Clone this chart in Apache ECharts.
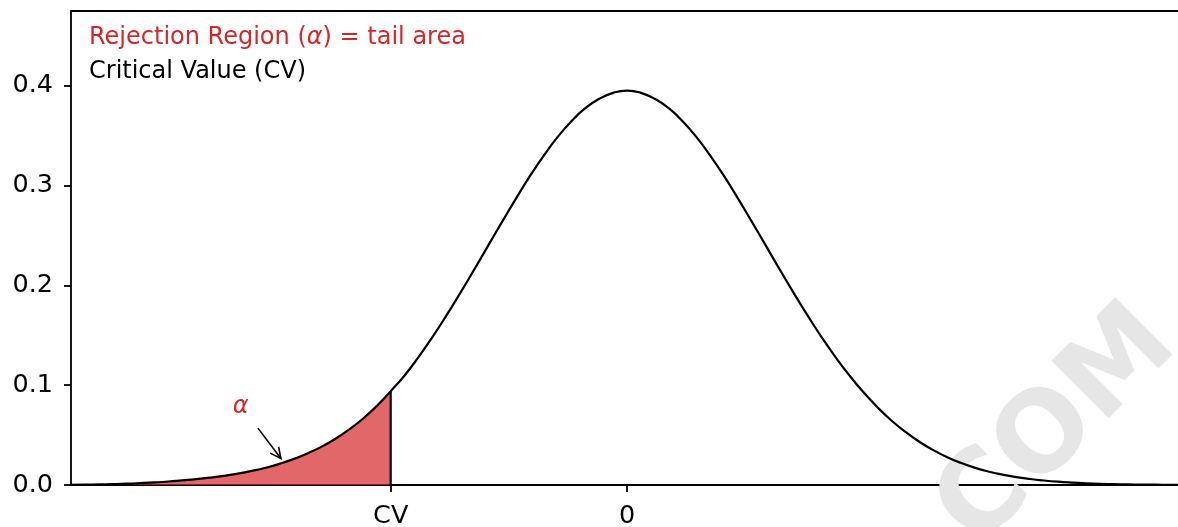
<!DOCTYPE html>
<html><head><meta charset="utf-8">
<script src="https://cdn.jsdelivr.net/npm/echarts@6/dist/echarts.min.js"></script>
<style>html,body{margin:0;padding:0;background:#fff}#c{width:1178px;height:527px}</style>
</head><body><div id="c"></div>
<script>
// ---- data ----
const xValues = [
  -4.0,-3.9,-3.8,-3.7,-3.6,-3.5,-3.4,-3.3,-3.2,-3.1,
  -3.0,-2.9,-2.8,-2.7,-2.6,-2.5,-2.4,-2.3,-2.2,-2.1,
  -2.0,-1.9,-1.8,-1.7,-1.6,-1.5,-1.4,-1.3,-1.2,-1.1,
  -1.0,-0.9,-0.8,-0.7,-0.6,-0.5,-0.4,-0.3,-0.2,-0.1,
   0.0,
   0.1, 0.2, 0.3, 0.4, 0.5, 0.6, 0.7, 0.8, 0.9, 1.0,
   1.1, 1.2, 1.3, 1.4, 1.5, 1.6, 1.7, 1.8, 1.9, 2.0,
   2.1, 2.2, 2.3, 2.4, 2.5, 2.6, 2.7, 2.8, 2.9, 3.0,
   3.1, 3.2, 3.3, 3.4, 3.5, 3.6, 3.7, 3.8, 3.9, 4.0
];
const density = [
  0.0002,0.0003,0.0006,0.0009,0.0013,0.0019,0.0026,0.0035,0.0047,0.0059,
  0.0074,0.0092,0.0114,0.0141,0.0173,0.0212,0.0259,0.0316,0.0382,0.0461,
  0.0555,0.0664,0.0792,0.0940,0.1098,0.1282,0.1482,0.1697,0.1923,0.2157,
  0.2396,0.2634,0.2868,0.3092,0.3299,0.3486,0.3646,0.3776,0.3870,0.3930,
  0.3953,
  0.3930,0.3870,0.3776,0.3646,0.3486,0.3299,0.3092,0.2868,0.2634,0.2396,
  0.2157,0.1923,0.1697,0.1482,0.1282,0.1098,0.0931,0.0782,0.0649,0.0535,
  0.0436,0.0352,0.0281,0.0222,0.0174,0.0135,0.0104,0.0079,0.0060,0.0045,
  0.0033,0.0024,0.0017,0.0012,0.0009,0.0006,0.0004,0.0003,0.0002,0.0001
];
const cvX = -1.7;
const xTickValues = [-1.7, 0];
const xTickLabels = ['CV', '0'];
const yTickValues = [0, 0.1, 0.2, 0.3, 0.4];
const alphaLabelPos = [-2.78, 0.078];
const arrowFrom = [-2.655, 0.057];
const arrowTo = [-2.49, 0.0265];
const titleRedParts = ['Rejection Region (', 'α', ') = tail area'];
const titleBlack = 'Critical Value (CV)';

// ---- build ----
const FONT = 'DejaVu Sans';
const curve = xValues.map((x, i) => [x, density[i]]);
const cvIdx = xValues.indexOf(cvX);
const tail = curve.slice(0, cvIdx + 1);
const cvLine = [[cvX, 0], [cvX, density[cvIdx]]];

const chart = echarts.init(document.getElementById('c'), null, {renderer: 'canvas'});
chart.setOption({
  animation: false,
  backgroundColor: '#fff',
  grid: {left: 71, top: 11, width: 1112, height: 474, show: true, borderColor: '#000', borderWidth: 1.8,
         containLabel: false, outerBoundsMode: 'none'},
  xAxis: {
    type: 'value', min: -4, max: 4,
    axisLine: {show: false, onZero: false},
    splitLine: {show: false},
    axisTick: {show: true, length: 7, lineStyle: {color: '#000', width: 1.8}, customValues: xTickValues},
    axisLabel: {
      customValues: xTickValues, margin: 18,
      color: '#000', fontSize: 25.5, fontFamily: FONT,
      formatter: v => { const k = xTickValues.findIndex(t => Math.abs(t - v) < 1e-9); return k >= 0 ? xTickLabels[k] : ''; }
    }
  },
  yAxis: {
    type: 'value', min: 0, max: 0.475,
    axisLine: {show: false, onZero: false},
    splitLine: {show: false},
    axisTick: {show: true, length: 7, lineStyle: {color: '#000', width: 1.8}, customValues: yTickValues},
    axisLabel: {customValues: yTickValues, margin: 18, padding: [11, 0, 0, 0], color: '#000', fontSize: 25.5, fontFamily: FONT, formatter: v => v.toFixed(1)}
  },
  graphic: [
    {type: 'text', x: 1058, y: 428, rotation: Math.PI / 4, z: 0, silent: true,
     style: {text: 'COM', fill: '#e6e6e6', font: 'bold 111px "DejaVu Sans"', align: 'center', verticalAlign: 'middle'}},
    {type: 'text', x: 89, y: 38, z: 10,
     style: {
       text: '{n|' + titleRedParts[0] + '}{i|' + titleRedParts[1] + '}{n|' + titleRedParts[2] + '}',
       verticalAlign: 'middle',
       rich: {
         n: {fill: '#d62728', fontSize: 24, fontFamily: FONT},
         i: {fill: '#d62728', fontSize: 24, fontFamily: FONT, fontStyle: 'italic'}
       }
     }},
    {type: 'text', x: 89, y: 71.5, z: 10,
     style: {text: titleBlack, fill: '#000', font: '24px "DejaVu Sans"', verticalAlign: 'middle'}}
  ],
  series: [
    {type: 'line', data: tail, showSymbol: false, symbol: 'none', smooth: 0.5, z: 3,
     lineStyle: {width: 0}, areaStyle: {color: 'rgba(214,39,40,0.7)', opacity: 1}},
    {type: 'line', data: curve, showSymbol: false, symbol: 'none', smooth: 0.5, z: 5,
     lineStyle: {color: '#000', width: 2.2, join: 'round'}},
    {type: 'line', data: cvLine, showSymbol: false, symbol: 'none', z: 5,
     lineStyle: {color: '#000', width: 2.2}},
    {type: 'custom', coordinateSystem: 'cartesian2d', z: 6,
     data: [[arrowFrom[0], arrowFrom[1], arrowTo[0], arrowTo[1]]],
     renderItem: (params, api) => {
       const p0 = api.coord([api.value(0), api.value(1)]);
       const p1 = api.coord([api.value(2), api.value(3)]);
       const dx = p1[0] - p0[0], dy = p1[1] - p0[1];
       const L = Math.hypot(dx, dy), ux = dx / L, uy = dy / L;
       const hl = 12, th = 26 * Math.PI / 180;
       const rot = a => [p1[0] - hl * (ux * Math.cos(a) - uy * Math.sin(a)), p1[1] - hl * (ux * Math.sin(a) + uy * Math.cos(a))];
       const h1 = rot(th), h2 = rot(-th);
       const st = {stroke: '#000', lineWidth: 1.6, fill: null};
       return {type: 'group', children: [
         {type: 'line', shape: {x1: p0[0], y1: p0[1], x2: p1[0], y2: p1[1]}, style: st},
         {type: 'polyline', shape: {points: [h1, p1, h2]}, style: st}
       ]};
     }},
    {type: 'custom', coordinateSystem: 'cartesian2d', z: 6,
     data: [alphaLabelPos],
     renderItem: (params, api) => {
       const p = api.coord([api.value(0), api.value(1)]);
       return {type: 'text', x: p[0], y: p[1],
         style: {text: 'α', fill: '#d62728', font: 'italic 24px "DejaVu Sans"', align: 'center', verticalAlign: 'middle'}};
     }}
  ]
});
</script>
</body></html>
